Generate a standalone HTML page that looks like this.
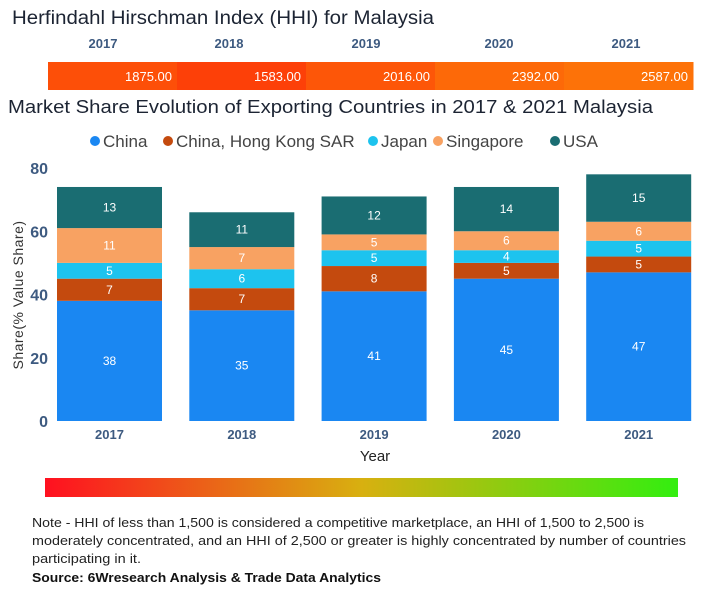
<!DOCTYPE html>
<html><head><meta charset="utf-8"><style>
html,body{margin:0;padding:0;background:#fff;}
svg{display:block;font-family:"Liberation Sans","DejaVu Sans",sans-serif;}
</style></head><body>
<svg id="root" width="705" height="600" viewBox="0 0 705 600">
<defs>
<linearGradient id="grad" x1="0" x2="1" y1="0" y2="0">
<stop offset="0" stop-color="#ff1020"/><stop offset="0.5" stop-color="#d8b010"/><stop offset="1" stop-color="#33ee10"/>
</linearGradient>
</defs>
<text x="12" y="24" font-size="19" fill="#1c2433" textLength="422" lengthAdjust="spacingAndGlyphs">Herfindahl Hirschman Index (HHI) for Malaysia</text>
<g id="hhi"></g>
<text x="8" y="113" font-size="18" fill="#1c2433" textLength="645" lengthAdjust="spacingAndGlyphs">Market Share Evolution of Exporting Countries in 2017 &amp; 2021 Malaysia</text>
<g id="legend"></g>
<g id="chart"></g>
<text x="375" y="461" font-size="15" fill="#222" text-anchor="middle">Year</text>
<text transform="translate(23,295) rotate(-90)" font-size="14" fill="#333" text-anchor="middle" letter-spacing="0.5">Share(% Value Share)</text>
<rect x="45" y="478" width="633" height="19" fill="url(#grad)"/>
<g font-size="13" fill="#222">
<text x="32" y="527" textLength="612" lengthAdjust="spacingAndGlyphs">Note - HHI of less than 1,500 is considered a competitive marketplace, an HHI of 1,500 to 2,500 is</text>
<text x="32" y="545" textLength="654" lengthAdjust="spacingAndGlyphs">moderately concentrated, and an HHI of 2,500 or greater is highly concentrated by number of countries</text>
<text x="32" y="563" textLength="109" lengthAdjust="spacingAndGlyphs">participating in it.</text>
</g>
<text x="32" y="582" font-size="13" font-weight="bold" fill="#111" textLength="349" lengthAdjust="spacingAndGlyphs">Source: 6Wresearch Analysis &amp; Trade Data Analytics</text>
</svg>
<script>
const years=["2017","2018","2019","2020","2021"];
const hhiValues=[1875,1583,2016,2392,2587];
const seriesNames=["China","China, Hong Kong SAR","Japan","Singapore","USA"];
const china=[38,35,41,45,47];
const hongKong=[7,7,8,5,5];
const japan=[5,6,5,4,5];
const singapore=[11,7,5,6,6];
const usa=[13,11,12,14,15];
const yTicks=[0,20,40,60,80];

const NS="http://www.w3.org/2000/svg";
function mk(tag,attrs,parent,txt){const e=document.createElementNS(NS,tag);for(const k in attrs)e.setAttribute(k,attrs[k]);if(txt!==undefined)e.textContent=txt;parent.appendChild(e);return e;}
const colors=["#1a87f2","#c44a0e","#1dc3ee","#f8a262","#1a6d72"];
const series=[china,hongKong,japan,singapore,usa];

// HHI strip
const hhiG=document.getElementById('hhi');
const hx0=48,hx1=693;
const segW=(hx1-hx0)/years.length;
const yearLabelX=[103,229,366,499,626];
function hhiColor(v){const t=Math.max(0,Math.min(1,(v-1500)/1100));const g=Math.round(60+t*55);return `rgb(253,${g},8)`;}
years.forEach((y,i)=>{
  const x=hx0+i*segW;
  const r=mk('rect',{x:x,y:62,width:segW+0.5,height:28,fill:hhiColor(hhiValues[i])},hhiG);
  
  
  const t=mk('text',{x:x+segW-5,y:81,'font-size':13,fill:'#fff','text-anchor':'end'},hhiG,hhiValues[i].toFixed(2));
  
  
  const yl=mk('text',{x:yearLabelX[i],y:48,'font-size':13,'font-weight':'bold',fill:'#3d5a80','text-anchor':'middle'},hhiG,y);
  
  
});

// Legend
const lg=document.getElementById('legend');
const legX=[95,168,373,438,555];
seriesNames.forEach((n,i)=>{
  const g=mk('g',{},lg);
  
  
  mk('circle',{cx:legX[i],cy:141,r:5,fill:colors[i]},g);
  mk('text',{x:legX[i]+8,y:147,'font-size':17,fill:'#444'},g,n);
});

// Chart
const cg=document.getElementById('chart');
const y0=421,yTop=168,vMax=80;
function yScale(v){return y0-(v/vMax)*(y0-yTop);}
const bx0=57,step=132.3,bw=105;
function xScale(i){return bx0+i*step;}
yTicks.forEach(t=>{
  const e=mk('text',{x:48,y:yScale(t)+6,'font-size':16,'font-weight':'bold',fill:'#3d5a80','text-anchor':'end'},cg,t);
  
  
});
years.forEach((y,i)=>{
  let cum=0;
  series.forEach((s,k)=>{
    const v=s[i];
    const top=yScale(cum+v),bot=yScale(cum);
    const r=mk('rect',{x:xScale(i),y:top,width:bw,height:bot-top,fill:colors[k]},cg);
    
    
    const l=mk('text',{x:xScale(i)+bw/2,y:(top+bot)/2+4,'font-size':12,fill:'#fff','text-anchor':'middle'},cg,v);
    
    
    cum+=v;
  });
  const xl=mk('text',{x:xScale(i)+bw/2,y:439,'font-size':13,'font-weight':'bold',fill:'#3d5a80','text-anchor':'middle'},cg,y);
  
  
});
</script>
</body></html>
